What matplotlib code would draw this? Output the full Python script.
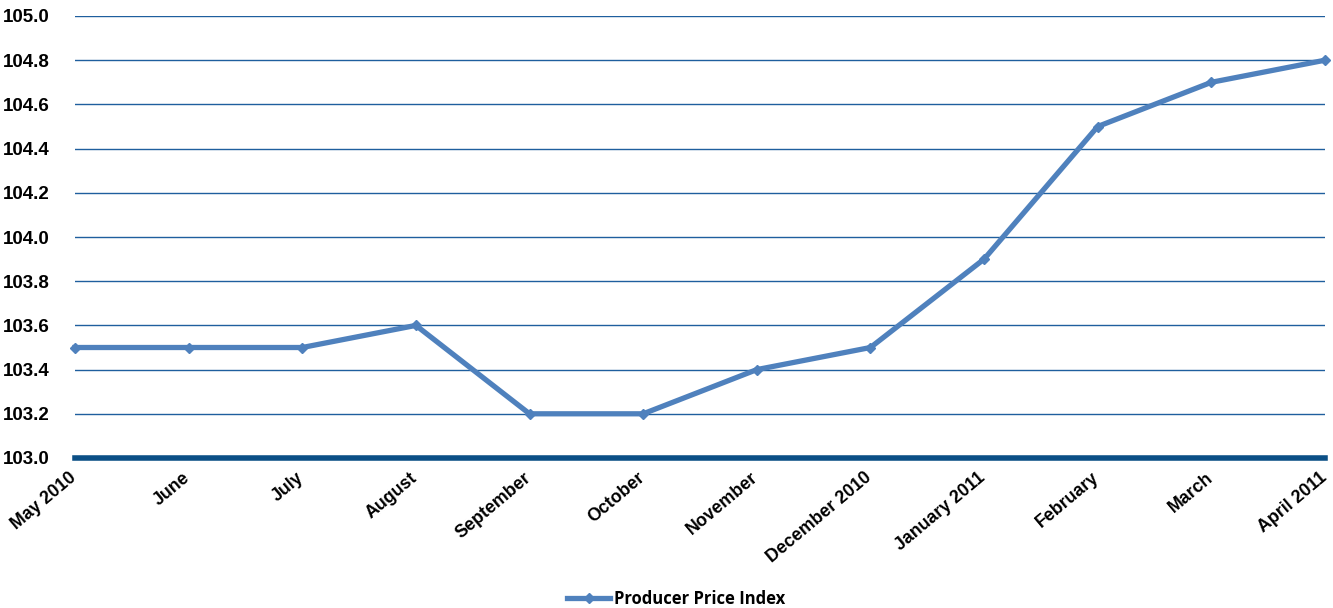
import matplotlib
matplotlib.use("Agg")
import matplotlib.pyplot as plt
import matplotlib.transforms as mtransforms
from matplotlib.lines import Line2D

months = ["May 2010", "June", "July", "August", "September", "October",
          "November", "December 2010", "January 2011", "February", "March", "April 2011"]
ppi = [103.5, 103.5, 103.5, 103.6, 103.2, 103.2, 103.4, 103.5, 103.9, 104.5, 104.7, 104.8]
yticks = [103.0, 103.2, 103.4, 103.6, 103.8, 104.0, 104.2, 104.4, 104.6, 104.8, 105.0]

fig = plt.figure(figsize=(13.33, 6.08), dpi=100)
ax = fig.add_axes([75/1333, 1-458/608, 1250/1333, 442/608])

x = list(range(len(months)))
for yv in yticks[1:]:
    ax.axhline(yv, color="#1f5f9e", lw=1.0, zorder=1)
ax.axhline(103.0, color="#0b4f86", lw=4, zorder=2, clip_on=False)

ax.plot(x, ppi, color="#4f81bd", lw=3.8, marker="D", ms=5, zorder=3,
        solid_joinstyle="round", clip_on=False)

ax.set_xlim(0, len(months) - 1)
ax.set_ylim(103.0, 105.0)
ax.set_yticks(yticks)
ax.set_yticklabels([f"{v:.1f}" for v in yticks], fontfamily="Liberation Sans",
                   fontweight="bold", fontsize=13.5)
ax.set_xticks(x)
ax.set_xticklabels(months, rotation=40, ha="right", rotation_mode="anchor",
                   fontfamily="Liberation Sans", fontweight="bold", fontsize=12.8)
ax.tick_params(axis="both", length=0)
ax.tick_params(axis="y", pad=18)
ax.tick_params(axis="x", pad=8)
offset = mtransforms.ScaledTranslation(-6/100, 0, fig.dpi_scale_trans)
for lbl in ax.get_xticklabels():
    lbl.set_transform(lbl.get_transform() + offset)
for s in ax.spines.values():
    s.set_visible(False)

handle = Line2D([], [], color="#4f81bd", lw=3.8, marker="D", ms=5)
fig.legend([handle], ["Producer Price Index"], loc="center",
           bbox_to_anchor=(676/1333, 1-599/608), frameon=False,
           prop={"family": "Open Sans", "weight": "bold", "size": 12},
           handlelength=2.6, handletextpad=0.2)

fig.savefig("out.png", dpi=100)
